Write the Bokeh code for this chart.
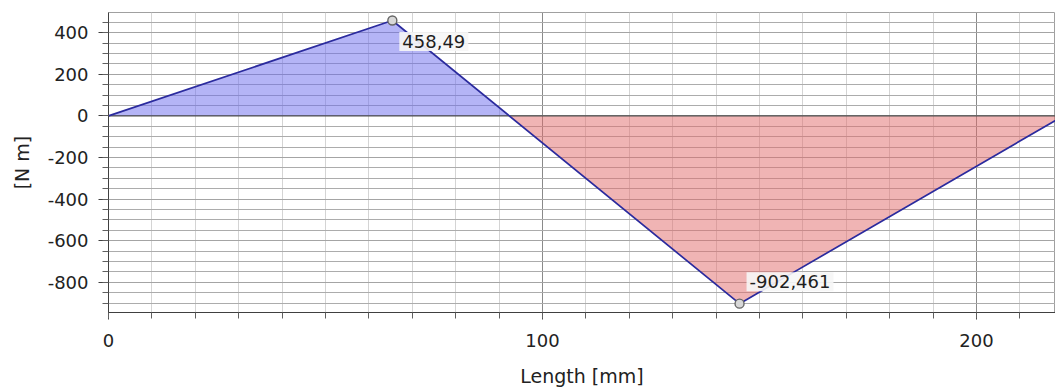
import numpy as np
from bokeh.plotting import figure
from bokeh.models import Range1d, FixedTicker, ColumnDataSource, PrintfTickFormatter
from bokeh.core.properties import value
from bokeh.embed import file_html
from bokeh.resources import INLINE

# ---- data ----
length_mm = [0.0, 65.4, 145.4, 220.0]
moment_nm = [0.0, 458.49, -902.461, 0.0]
extreme_x = [65.4, 145.4]
extreme_y = [458.49, -902.461]
extreme_labels = ["458,49", "-902,461"]
x_ticks = [0, 100, 200]
y_ticks = [400, 200, 0, -200, -400, -600, -800]

FONT = "DejaVu Sans"

p = figure(width=1055, height=392, output_backend="svg", toolbar_location=None,
           x_range=Range1d(0, 218.2), y_range=Range1d(-945, 497),
           min_border_left=108, min_border_right=0, min_border_top=12, min_border_bottom=80,
           background_fill_color="white", border_fill_color="white",
           outline_line_color="#a0a0a0")

# fills: split the polyline at zero crossings
xs = np.array(length_mm)
ys = np.array(moment_nm)
fx = [xs[0]]
fy = [ys[0]]
for i in range(len(xs) - 1):
    x0, x1, y0, y1 = xs[i], xs[i + 1], ys[i], ys[i + 1]
    if y0 * y1 < 0:
        xc = x0 + (x1 - x0) * (-y0) / (y1 - y0)
        fx.append(xc)
        fy.append(0.0)
    fx.append(x1)
    fy.append(y1)
fx = np.array(fx)
fy = np.array(fy)
p.varea(x=fx, y1=np.zeros_like(fy), y2=np.clip(fy, 0, None), fill_color="#6a6aee", fill_alpha=0.5)
p.varea(x=fx, y1=np.zeros_like(fy), y2=np.clip(fy, None, 0), fill_color="#e26a6a", fill_alpha=0.5)

# zero line
p.line(x=[0, 230], y=[0, 0], line_color="#505050", line_width=1.2)

# main line
p.line(x=length_mm, y=moment_nm, line_color="#2b2b9e", line_width=1.7)

# extreme markers
p.scatter(x=extreme_x, y=extreme_y, size=9, marker="circle",
          line_color="#666666", fill_color="#d8d8d8", line_width=1.4)

src1 = ColumnDataSource(dict(x=extreme_x[:1], y=extreme_y[:1], t=extreme_labels[:1]))
src2 = ColumnDataSource(dict(x=extreme_x[1:], y=extreme_y[1:], t=extreme_labels[1:]))
for src, yo in ((src1, 21), (src2, -22)):
    p.text(x="x", y="y", text="t", source=src, x_offset=7, y_offset=yo,
           text_font=value(FONT), text_font_size="18px", text_color="#1e1e1e",
           text_baseline="middle", text_align="left",
           background_fill_color="#f6f6f6", background_fill_alpha=0.9, padding=3)

# grids
p.xgrid.ticker = FixedTicker(ticks=x_ticks, minor_ticks=list(range(0, 230, 10)))
p.ygrid.ticker = FixedTicker(ticks=y_ticks, minor_ticks=list(range(-950, 501, 50)))
p.xgrid.grid_line_color = "#8a8a8a"
p.xgrid.minor_grid_line_color = "#d4d4d4"
p.ygrid.grid_line_color = "#a4a4a4"
p.ygrid.minor_grid_line_color = "#acacac"

# axes
p.xaxis.ticker = FixedTicker(ticks=x_ticks, minor_ticks=list(range(0, 230, 10)))
p.yaxis.ticker = FixedTicker(ticks=y_ticks, minor_ticks=list(range(-950, 501, 50)))
p.xaxis.formatter = PrintfTickFormatter(format="%d")
p.yaxis.formatter = PrintfTickFormatter(format="%d")
p.xaxis.axis_label = "Length [mm]"
p.yaxis.axis_label = "[N m]"
for ax in (p.xaxis[0], p.yaxis[0]):
    ax.axis_line_color = "#404040"
    ax.major_tick_line_color = "#404040"
    ax.minor_tick_line_color = "#606060"
    ax.major_label_text_font = FONT
    ax.major_label_text_font_size = "18px"
    ax.major_label_text_color = "#222222"
    ax.axis_label_text_font = FONT
    ax.axis_label_text_font_size = "19px"
    ax.axis_label_text_font_style = "normal"
    ax.axis_label_text_color = "#222222"
    ax.major_tick_in = 0
    ax.minor_tick_in = 0
p.xaxis.major_tick_out = 7
p.xaxis.minor_tick_out = 6
p.xaxis.major_label_standoff = 14
p.xaxis.axis_label_standoff = 15
p.yaxis.major_tick_out = 10
p.yaxis.minor_tick_out = 6
p.yaxis.major_label_standoff = 10
p.yaxis.axis_label_standoff = 12

open("out.html", "w").write(file_html(p, INLINE))
